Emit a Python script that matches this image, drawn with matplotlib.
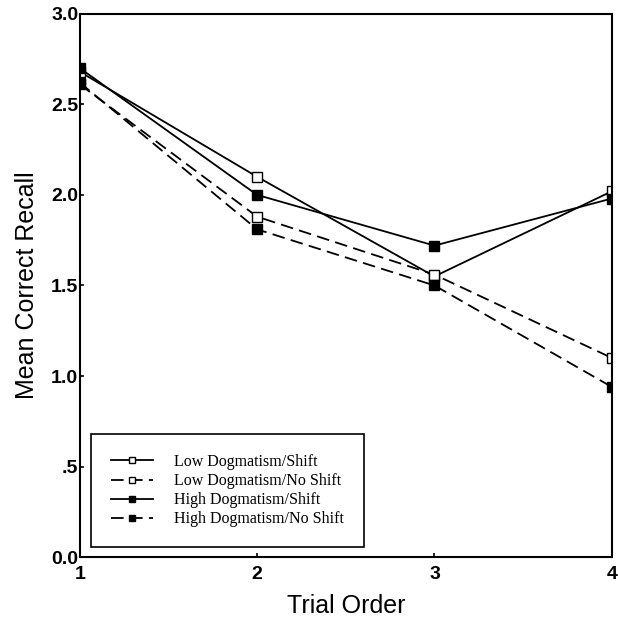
import matplotlib
matplotlib.use("Agg")
import matplotlib.pyplot as plt

trials = [1, 2, 3, 4]
low_shift = [2.68, 2.10, 1.55, 2.02]
low_noshift = [2.61, 1.88, 1.56, 1.10]
high_shift = [2.70, 2.00, 1.72, 1.98]
high_noshift = [2.62, 1.81, 1.50, 0.94]
labels = ["Low Dogmatism/Shift", "Low Dogmatism/No Shift",
          "High Dogmatism/Shift", "High Dogmatism/No Shift"]
yticks = [0.0, 0.5, 1.0, 1.5, 2.0, 2.5, 3.0]
ytick_labels = ["0.0", ".5", "1.0", "1.5", "2.0", "2.5", "3.0"]

fig = plt.figure(figsize=(6.18, 6.24), dpi=100)
ax = fig.add_axes([0.129, 0.107, 0.861, 0.871])

ms = 6.5
ax.plot(trials, low_shift, "k-", marker="s", mfc="white", mec="k", ms=ms, lw=1.3, label=labels[0])
ax.plot(trials, low_noshift, "k--", marker="s", mfc="white", mec="k", ms=ms, lw=1.3,
        dashes=(7, 3.5), label=labels[1])
ax.plot(trials, high_shift, "k-", marker="s", mfc="k", mec="k", ms=ms, lw=1.3, label=labels[2])
ax.plot(trials, high_noshift, "k--", marker="s", mfc="k", mec="k", ms=ms, lw=1.3,
        dashes=(7, 3.5), label=labels[3])

ax.set_xlim(1, 4)
ax.set_ylim(0, 3)
ax.set_xticks(trials)
ax.set_yticks(yticks)
ax.set_yticklabels(ytick_labels)
ax.tick_params(direction="in", length=3, width=1.2, labelsize=14)
ax.tick_params(axis="y", pad=1)
ax.tick_params(axis="x", pad=6)
for lab in ax.get_xticklabels() + ax.get_yticklabels():
    lab.set_fontweight("bold")
    lab.set_family("Liberation Sans")
for s in ax.spines.values():
    s.set_linewidth(1.5)

ax.set_xlabel("Trial Order", fontsize=18, family="Liberation Sans", labelpad=8)
ax.set_ylabel("Mean Correct Recall", fontsize=18, family="Liberation Sans", labelpad=9)

leg = ax.legend(loc="lower left", bbox_to_anchor=(0.022, 0.018), borderaxespad=0,
                fancybox=False, edgecolor="k", framealpha=1,
                handlelength=2.6, handletextpad=1.3,
                prop={"family": "Liberation Serif", "size": 11.5},
                borderpad=1.25, labelspacing=0.2, markerscale=0.75)
leg.get_frame().set_linewidth(1.2)

fig.savefig("out.png", dpi=100)
